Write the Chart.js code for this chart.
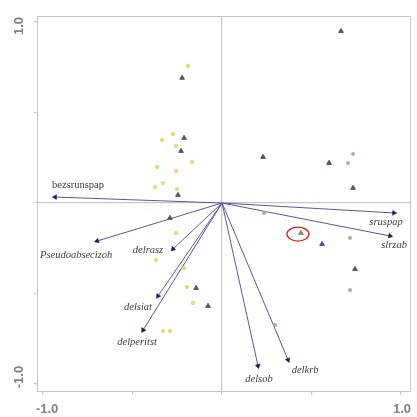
<!DOCTYPE html>
<html><head><meta charset="utf-8">
<script src="https://cdn.jsdelivr.net/npm/chart.js@4/dist/chart.umd.min.js"></script>
<style>html,body{margin:0;padding:0;background:#fff}#wrap{width:417px;height:417px}</style>
</head><body><div id="wrap"><canvas id="c" width="417" height="417"></canvas></div>
<script>
// ---- data ----
const arrowNames = ['bezsrunspap','Pseudoabsecizoh','delrasz','delsiat','delperitst','delsob','delkrb','sruspap','slrzab'];
const arrowX = [-0.933,-0.698,-0.274,-0.358,-0.441,0.201,0.369,0.961,0.939];
const arrowY = [0.033,-0.210,-0.254,-0.514,-0.702,-0.900,-0.867,-0.055,-0.182];

const yellowX = [-0.190,-0.274,-0.335,-0.363,-0.374,-0.330,-0.251,-0.257,-0.168,-0.257,-0.257,-0.369,-0.212,-0.196,-0.162,-0.330,-0.291];
const yellowY = [0.757,0.381,0.348,0.199,0.088,0.110,0.077,0.315,0.227,0.177,-0.166,-0.315,-0.359,-0.464,-0.552,-0.707,-0.707];

const darkX = [-0.223,-0.212,-0.229,-0.246,-0.291,-0.145,-0.078,0.665,0.229,0.732,0.743];
const darkY = [0.691,0.359,0.287,0.044,-0.083,-0.470,-0.569,0.950,0.254,0.083,-0.365];

const blueX = [0.598,0.559];
const blueY = [0.221,-0.227];

const lightBlueX = [0.732,0.704];
const lightBlueY = [0.271,0.221];

const grayX = [0.715,0.715,0.235,0.296];
const grayY = [-0.193,-0.481,-0.055,-0.674];

const markedX = [0.441];
const markedY = [-0.166];

const tickValues = [-1,-0.5,0,0.5,1];
const tickLabels = ['-1.0','1.0'];

// ---- build ----
const pts = (xs, ys) => xs.map((x, i) => ({x: x, y: ys[i]}));
const labelOffsets = [[23,-12],[-21,14],[-25,1],[-20,11],[-6,12],[1,13],[17,10],[-8,9],[4,9]];

const arrowDatasets = arrowNames.map((n, i) => ({
  type: 'line',
  label: n,
  data: [{x:0,y:0},{x:arrowX[i],y:arrowY[i]}],
  borderColor: '#5656aa',
  borderWidth: 1,
  pointRadius: [0, 2.8],
  pointStyle: 'triangle',
  pointBackgroundColor: '#1c1c66',
  pointBorderColor: '#1c1c66',
  pointBorderWidth: 0.5,
  pointRotation: (ctx) => {
    const ch = ctx.chart, xs = ch.scales.x, ys = ch.scales.y;
    const dx = xs.getPixelForValue(arrowX[i]) - xs.getPixelForValue(0);
    const dy = ys.getPixelForValue(arrowY[i]) - ys.getPixelForValue(0);
    return Math.atan2(dx, -dy) * 180 / Math.PI;
  },
  order: 5
}));

const pointDatasets = [
  {label:'yellow', data: pts(yellowX, yellowY), pointStyle:'circle', pointRadius:1.8, backgroundColor:'#e8d783', borderColor:'#e8d783', order:1},
  {label:'dark', data: pts(darkX, darkY), pointStyle:'triangle', pointRadius:2.7, backgroundColor:'#585858', borderColor:'#585858', order:1},
  {label:'blue', data: pts(blueX, blueY), pointStyle:'triangle', pointRadius:2.7, backgroundColor:'#43528a', borderColor:'#43528a', order:1},
  {label:'lightblue', data: pts(lightBlueX, lightBlueY), pointStyle:'rect', pointRadius:1.7, backgroundColor:'#98adc4', borderColor:'#98adc4', order:1},
  {label:'gray', data: pts(grayX, grayY), pointStyle:'rect', pointRadius:1.8, backgroundColor:'#adb09d', borderColor:'#adb09d', order:1},
  {label:'marked', data: pts(markedX, markedY), pointStyle:'triangle', pointRadius:2.8, backgroundColor:'#908e5a', borderColor:'#908e5a', order:1}
];

const decor = {
  id: 'decor',
  afterDraw(chart) {
    const ctx = chart.ctx, a = chart.chartArea, xs = chart.scales.x, ys = chart.scales.y;
    ctx.save();
    // frame
    ctx.strokeStyle = '#c4c4c4'; ctx.lineWidth = 1;
    ctx.strokeRect(a.left + 0.5, a.top + 0.5, a.right - a.left - 1, a.bottom - a.top - 1);
    // arrow labels
    ctx.fillStyle = '#3a3a3a';
    ctx.textAlign = 'center'; ctx.textBaseline = 'middle';
    arrowNames.forEach((n, i) => {
      const px = xs.getPixelForValue(arrowX[i]) + labelOffsets[i][0];
      const py = ys.getPixelForValue(arrowY[i]) + labelOffsets[i][1];
      ctx.font = (i === 0 ? '' : 'italic ') + '10.5px "Liberation Serif", serif';
      ctx.fillText(n, px, py);
    });
    // red ellipse around marked point
    const mx = xs.getPixelForValue(markedX[0]) - 3, my = ys.getPixelForValue(markedY[0]) + 1;
    ctx.strokeStyle = '#e0201b'; ctx.lineWidth = 1.3;
    ctx.beginPath(); ctx.ellipse(mx, my, 11, 7, 0, 0, Math.PI * 2); ctx.stroke();
    // tick labels
    ctx.fillStyle = '#808080';
    ctx.font = 'bold 13px "Liberation Sans", Arial, sans-serif';
    ctx.textAlign = 'center'; ctx.textBaseline = 'middle';
    ctx.fillText(tickLabels[0], xs.getPixelForValue(-1) + 4, a.bottom + 17);
    ctx.fillText(tickLabels[1], xs.getPixelForValue(1) + 1, a.bottom + 17);
    [[1, tickLabels[1], 4], [-1, tickLabels[0], -7]].forEach(([v, t, off]) => {
      ctx.save();
      ctx.translate(19, ys.getPixelForValue(v) + off);
      ctx.rotate(-Math.PI / 2);
      ctx.fillText(t, 0, 0);
      ctx.restore();
    });
    ctx.restore();
  }
};

const setTicks = (s) => { s.ticks = tickValues.map(v => ({value: v})); };
const gridCfg = {
  drawOnChartArea: true,
  color: (c) => (c.tick && c.tick.value === 0) ? '#c8c8c8' : 'rgba(0,0,0,0)',
  lineWidth: 1.2,
  drawTicks: true,
  tickLength: 3,
  tickColor: '#cccccc'
};

new Chart(document.getElementById('c'), {
  type: 'scatter',
  data: { datasets: [...pointDatasets, ...arrowDatasets] },
  options: {
    responsive: false,
    animation: false,
    layout: { padding: { top: 16, right: 6, left: 0, bottom: 0 } },
    plugins: { legend: { display: false }, tooltip: { enabled: false } },
    scales: {
      x: {
        type: 'linear', min: -1.034, max: 1.056,
        afterBuildTicks: setTicks,
        afterFit: (s) => { s.height = 25; },
        ticks: { display: false },
        grid: gridCfg,
        border: { display: false }
      },
      y: {
        type: 'linear', min: -1.044, max: 1.033,
        afterBuildTicks: setTicks,
        afterFit: (s) => { s.width = 37; },
        ticks: { display: false },
        grid: gridCfg,
        border: { display: false }
      }
    }
  },
  plugins: [decor]
});
</script>
</body></html>
